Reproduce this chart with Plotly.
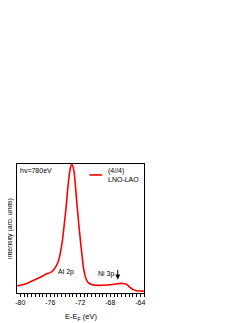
import plotly.graph_objects as go

energy = [-80.4, -80.0, -79.0, -78.0, -77.0, -76.5, -76.0, -75.5, -75.0, -74.7, -74.4, -74.17,
          -73.9, -73.73, -73.5, -73.37, -73.15, -72.88, -72.7, -72.57, -72.35, -72.17, -71.95,
          -71.8, -71.5, -71.2, -70.9, -70.5, -70.0, -69.0, -68.0, -67.0, -66.3, -65.8, -65.4,
          -65.0, -64.5, -64.0, -63.5]
intensity = [0.055, 0.060, 0.078, 0.104, 0.132, 0.150, 0.158, 0.185, 0.235, 0.30, 0.40, 0.514,
             0.66, 0.774, 0.90, 0.956, 1.0, 0.956, 0.87, 0.774, 0.63, 0.514, 0.39,
             0.307, 0.17, 0.105, 0.078, 0.065, 0.060, 0.060, 0.064, 0.072, 0.074, 0.066, 0.045,
             0.028, 0.018, 0.015, 0.015]

x_tick_vals = [-80, -76, -72, -68, -64]
x_tick_text = ["-80", "-76", "-72", "-68", "-64"]
series_name = "(4//4)<br>LNO-LAO"

font = "Liberation Sans, Arial, sans-serif"
red = "#ff0000"

fig = go.Figure()
fig.add_trace(go.Scatter(
    x=energy, y=intensity, mode="lines",
    line=dict(color=red, width=1.6, shape="spline", smoothing=0.8),
    name=series_name, showlegend=False,
))

fig.update_layout(
    width=249, height=323,
    margin=dict(l=9, r=113.4, t=156.3, b=38.3),
    paper_bgcolor="white", plot_bgcolor="white",
    font=dict(family=font, size=7, color="black"),
    showlegend=False,
    xaxis=dict(range=[-80.44, -63.5], showline=True, linecolor="black", linewidth=1,
               mirror=True, ticks="outside", ticklen=3, tickwidth=1, tickcolor="black",
               tickvals=x_tick_vals, ticktext=x_tick_text, showgrid=False, zeroline=False,
               tickfont=dict(size=7, family=font), automargin=False,
               minor=dict(dtick=0.5, tick0=-80, ticks="outside", ticklen=2.5, tickcolor="black", tickwidth=1)),
    yaxis=dict(range=[0, 1.0], showline=True, linecolor="black", linewidth=1, mirror=True,
               showticklabels=False, ticks="", showgrid=False, zeroline=False, automargin=False),
)

# axis titles
fig.add_annotation(x=0.5, y=-0.185, xref="paper", yref="paper", text="E-E<sub>F</sub> (eV)",
                   showarrow=False, xanchor="center", yanchor="middle",
                   font=dict(size=7.5, family=font))
fig.add_annotation(x=-0.058, y=0.5, xref="paper", yref="paper", text="intensity (arb. units)",
                   showarrow=False, textangle=-90, xanchor="center", yanchor="middle",
                   font=dict(size=7, family=font))

# legend key
fig.add_shape(type="line", xref="paper", yref="paper", x0=0.57, x1=0.67, y0=0.915, y1=0.915,
              line=dict(color=red, width=1.6))
fig.add_annotation(x=0.70, y=0.915, xref="paper", yref="paper", text=series_name,
                   showarrow=False, xanchor="left", yanchor="middle", align="left",
                   font=dict(size=7, family=font))

fig.add_annotation(x=0.01, y=0.995, xref="paper", yref="paper", text="hv=780eV",
                   showarrow=False, xanchor="left", yanchor="top",
                   font=dict(size=7, family=font))
fig.add_annotation(x=-73.9, y=0.16, text="Al 2p", showarrow=False,
                   font=dict(size=7, family=font))
fig.add_annotation(x=-68.6, y=0.148, text="Ni 3p", showarrow=False,
                   font=dict(size=7, family=font))
fig.add_annotation(x=-67.0, y=0.105, ax=0, ay=-11, text="", showarrow=True,
                   arrowhead=2, arrowsize=1, arrowwidth=1, arrowcolor="black")

fig.write_html("out.html")
